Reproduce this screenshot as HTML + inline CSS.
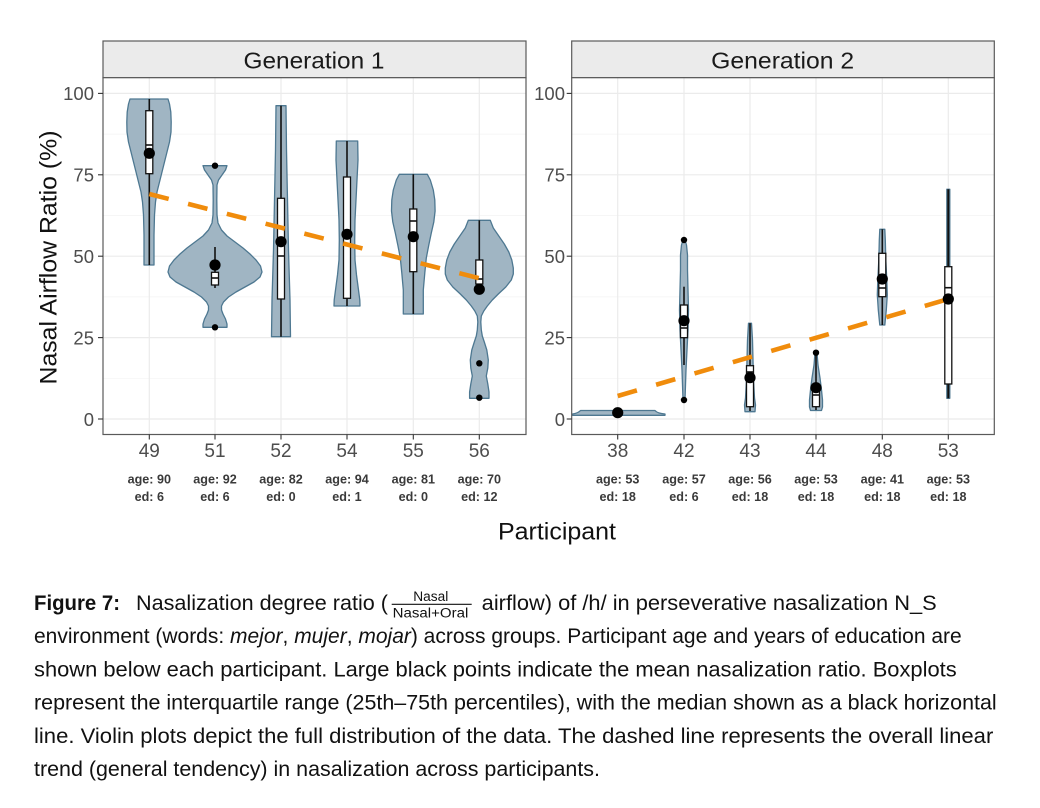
<!DOCTYPE html>
<html>
<head>
<meta charset="utf-8">
<style>
  html,body{margin:0;padding:0;background:#fff;}
  svg{display:block;}
  text{font-family:"Liberation Sans", Arial, sans-serif;}
</style>
</head>
<body>
<svg width="1040" height="808" viewBox="0 0 1040 808" xmlns="http://www.w3.org/2000/svg">
  <rect x="0" y="0" width="1040" height="808" fill="#fff"/>

  <!-- ================= PANEL 1 ================= -->
  <!-- strip -->
  <rect x="103" y="41" width="423" height="36.7" fill="#ebebeb" stroke="#5a5a5a" stroke-width="1.2"/>
  <text x="314" y="68.5" font-size="23" fill="#1a1a1a" text-anchor="middle" textLength="141" lengthAdjust="spacingAndGlyphs">Generation 1</text>
  <!-- panel bg -->
  <rect x="103" y="77.7" width="423" height="356.8" fill="#fff"/>
  <!-- minor grid -->
  <g stroke="#f3f3f3" stroke-width="0.7">
    <line x1="103" x2="526" y1="134.1" y2="134.1"/>
    <line x1="103" x2="526" y1="215.5" y2="215.5"/>
    <line x1="103" x2="526" y1="296.9" y2="296.9"/>
    <line x1="103" x2="526" y1="378.3" y2="378.3"/>
  </g>
  <!-- major grid -->
  <g stroke="#ebebeb" stroke-width="1.2">
    <line x1="103" x2="526" y1="93.4" y2="93.4"/>
    <line x1="103" x2="526" y1="174.8" y2="174.8"/>
    <line x1="103" x2="526" y1="256.2" y2="256.2"/>
    <line x1="103" x2="526" y1="337.6" y2="337.6"/>
    <line x1="103" x2="526" y1="419" y2="419"/>
    <line x1="149.3" x2="149.3" y1="77.7" y2="434.5"/>
    <line x1="215" x2="215" y1="77.7" y2="434.5"/>
    <line x1="281" x2="281" y1="77.7" y2="434.5"/>
    <line x1="347" x2="347" y1="77.7" y2="434.5"/>
    <line x1="413.3" x2="413.3" y1="77.7" y2="434.5"/>
    <line x1="479.3" x2="479.3" y1="77.7" y2="434.5"/>
  </g>

  <!-- violins panel 1 -->
  <g fill="#a0b5c3" stroke="#4e7891" stroke-width="1.3" stroke-linejoin="round">
    <path d="M130,99 L128.5,104 L127.2,112 L126.8,122 L127,132 L128.5,142 L131,152 L133.5,162 L136,172 L138.5,182 L141,192 L142.5,202 L143.5,215 L144,235 L144,265 L154,265 L154,235 L154.5,215 L155.5,202 L157,192 L159.5,182 L162,172 L164.5,162 L167,152 L169.5,142 L171,132 L171.2,122 L170.8,112 L169.5,104 L168,99 Z"/>
    <path d="M203,165.7 L204.5,170 L208,175 L211.5,180 L213,185 L213.2,200 L213,215 L212,223 L208.5,230 L203,236 L195,242 L187,248 L180,254 L174,260 L169.5,266 L168,272 L170,277 L176,282 L185,287 L194,292 L201.5,297 L206.5,302 L208.5,306 L208.5,310 L207,314 L204.5,319 L203,324 L203,327.3 L227,327.3 L227,324 L225.5,319 L223,314 L221.5,310 L221.5,306 L223.5,302 L228.5,297 L236,292 L245,287 L254,282 L260,277 L262,272 L260.5,266 L256,260 L250,254 L243,248 L235,242 L227,236 L221.5,230 L218,223 L217,215 L216.8,200 L217,185 L218.5,180 L222,175 L225.5,170 L227,165.7 Z"/>
    <path d="M276,105.7 L275.5,150 L274.5,200 L273.5,250 L272,300 L271.5,336.7 L290.5,336.7 L290,300 L288.5,250 L287.5,200 L286.5,150 L286,105.7 Z"/>
    <path d="M336.3,141 L336,160 L337,180 L338,200 L339,220 L339.3,240 L339,260 L337.5,275 L335.5,290 L334.2,300 L334,306 L360,306 L359.8,300 L358.5,290 L356.5,275 L355,260 L354.7,240 L355,220 L356,200 L357,180 L358,160 L357.7,141 Z"/>
    <path d="M399.3,174.3 L396.3,180 L393.3,190 L391.8,200 L391.5,211 L392.8,222 L395.3,233 L397.8,245 L400.3,258 L401.8,273 L403.3,290 L403.3,314 L423.3,314 L423.3,290 L424.8,273 L426.3,258 L428.8,245 L431.3,233 L433.8,222 L435.1,211 L434.8,200 L433.3,190 L430.3,180 L427.3,174.3 Z"/>
    <path d="M468.3,220.3 L465.3,228 L459.8,236 L454.3,244 L449.8,252 L446.8,260 L445.3,268 L445.3,274 L447.3,280 L452.8,287 L460.3,294 L466.3,300 L471.3,306 L474.8,311 L477.3,316 L477.8,322 L477.3,330 L476.3,336 L474.3,342 L471.8,350 L470.3,360 L470.8,368 L472.3,376 L470.8,384 L469.6,392 L469.6,398.3 L489,398.3 L489,392 L487.8,384 L486.3,376 L487.8,368 L488.3,360 L486.8,350 L484.3,342 L482.3,336 L481.3,330 L480.8,322 L481.3,316 L483.8,311 L487.3,306 L492.3,300 L498.3,294 L505.8,287 L511.3,280 L513.3,274 L513.3,268 L511.8,260 L508.8,252 L504.3,244 L498.8,236 L493.3,228 L490.3,220.3 Z"/>
  </g>

  <!-- whiskers panel 1 -->
  <g stroke="#111" stroke-width="1.6">
    <line x1="149.3" x2="149.3" y1="99" y2="265"/>
    <line x1="215" x2="215" y1="247" y2="288"/>
    <line x1="281" x2="281" y1="105.7" y2="336.7"/>
    <line x1="347" x2="347" y1="141" y2="306"/>
    <line x1="413.3" x2="413.3" y1="174.3" y2="314"/>
    <line x1="479.3" x2="479.3" y1="220.3" y2="292"/>
  </g>
  <!-- boxes panel 1 -->
  <g fill="#fff" stroke="#111" stroke-width="1.3">
    <rect x="145.8" y="110.7" width="7" height="63"/>
    <rect x="211.5" y="272.3" width="7" height="12.7"/>
    <rect x="277.5" y="198.3" width="7" height="100.7"/>
    <rect x="343.5" y="177" width="7" height="121.3"/>
    <rect x="409.8" y="209" width="7" height="62.7"/>
    <rect x="475.8" y="260" width="7" height="24"/>
  </g>
  <g stroke="#111" stroke-width="1.6">
    <line x1="145.8" x2="152.8" y1="145" y2="145"/>
    <line x1="211.5" x2="218.5" y1="278" y2="278"/>
    <line x1="277.5" x2="284.5" y1="256" y2="256"/>
    <line x1="343.5" x2="350.5" y1="236" y2="236"/>
    <line x1="409.8" x2="416.8" y1="221" y2="221"/>
    <line x1="475.8" x2="482.8" y1="279" y2="279"/>
  </g>

  <!-- trend panel 1 -->
  <line x1="149.3" y1="194" x2="479.3" y2="278.3" stroke="#f08c0c" stroke-width="4.6" stroke-dasharray="20 20"/>

  <!-- points panel 1 -->
  <g fill="#000">
    <circle cx="149.3" cy="153.3" r="5.6"/>
    <circle cx="215" cy="265" r="5.6"/>
    <circle cx="281" cy="241.7" r="5.6"/>
    <circle cx="347" cy="234.3" r="5.6"/>
    <circle cx="413.3" cy="236.7" r="5.6"/>
    <circle cx="479.3" cy="289.3" r="5.6"/>
    <circle cx="215" cy="165.7" r="3.2"/>
    <circle cx="215" cy="327.3" r="3.2"/>
    <circle cx="479.3" cy="363.3" r="3.2"/>
    <circle cx="479.3" cy="397.7" r="3.2"/>
  </g>

  <!-- panel 1 border -->
  <rect x="103" y="77.7" width="423" height="356.8" fill="none" stroke="#5a5a5a" stroke-width="1.2"/>

  <!-- y ticks panel 1 -->
  <g stroke="#333" stroke-width="1.1">
    <line x1="98" x2="103" y1="93.4" y2="93.4"/>
    <line x1="98" x2="103" y1="174.8" y2="174.8"/>
    <line x1="98" x2="103" y1="256.2" y2="256.2"/>
    <line x1="98" x2="103" y1="337.6" y2="337.6"/>
    <line x1="98" x2="103" y1="419" y2="419"/>
  </g>
  <g font-size="18.5" fill="#4d4d4d" text-anchor="end">
    <text x="94" y="100.2">100</text>
    <text x="94" y="181.6">75</text>
    <text x="94" y="263">50</text>
    <text x="94" y="344.4">25</text>
    <text x="94" y="425.8">0</text>
  </g>
  <!-- x ticks panel 1 -->
  <g stroke="#333" stroke-width="1.1">
    <line x1="149.3" x2="149.3" y1="434.5" y2="439.5"/>
    <line x1="215" x2="215" y1="434.5" y2="439.5"/>
    <line x1="281" x2="281" y1="434.5" y2="439.5"/>
    <line x1="347" x2="347" y1="434.5" y2="439.5"/>
    <line x1="413.3" x2="413.3" y1="434.5" y2="439.5"/>
    <line x1="479.3" x2="479.3" y1="434.5" y2="439.5"/>
  </g>
  <g font-size="19" fill="#4d4d4d" text-anchor="middle">
    <text x="149.3" y="457">49</text>
    <text x="215" y="457">51</text>
    <text x="281" y="457">52</text>
    <text x="347" y="457">54</text>
    <text x="413.3" y="457">55</text>
    <text x="479.3" y="457">56</text>
  </g>
  <g font-size="12.6" font-weight="bold" fill="#3a3a3a" text-anchor="middle">
    <text x="149.3" y="483.5">age: 90</text><text x="149.3" y="501">ed: 6</text>
    <text x="215" y="483.5">age: 92</text><text x="215" y="501">ed: 6</text>
    <text x="281" y="483.5">age: 82</text><text x="281" y="501">ed: 0</text>
    <text x="347" y="483.5">age: 94</text><text x="347" y="501">ed: 1</text>
    <text x="413.3" y="483.5">age: 81</text><text x="413.3" y="501">ed: 0</text>
    <text x="479.3" y="483.5">age: 70</text><text x="479.3" y="501">ed: 12</text>
  </g>

  <!-- ================= PANEL 2 ================= -->
  <rect x="571.7" y="41" width="422.6" height="36.7" fill="#ebebeb" stroke="#5a5a5a" stroke-width="1.2"/>
  <text x="782.7" y="68.5" font-size="23" fill="#1a1a1a" text-anchor="middle" textLength="143" lengthAdjust="spacingAndGlyphs">Generation 2</text>
  <rect x="571.7" y="77.7" width="422.6" height="356.8" fill="#fff"/>
  <g stroke="#f3f3f3" stroke-width="0.7">
    <line x1="571.7" x2="994.3" y1="134.1" y2="134.1"/>
    <line x1="571.7" x2="994.3" y1="215.5" y2="215.5"/>
    <line x1="571.7" x2="994.3" y1="296.9" y2="296.9"/>
    <line x1="571.7" x2="994.3" y1="378.3" y2="378.3"/>
  </g>
  <g stroke="#ebebeb" stroke-width="1.2">
    <line x1="571.7" x2="994.3" y1="93.4" y2="93.4"/>
    <line x1="571.7" x2="994.3" y1="174.8" y2="174.8"/>
    <line x1="571.7" x2="994.3" y1="256.2" y2="256.2"/>
    <line x1="571.7" x2="994.3" y1="337.6" y2="337.6"/>
    <line x1="571.7" x2="994.3" y1="419" y2="419"/>
    <line x1="617.7" x2="617.7" y1="77.7" y2="434.5"/>
    <line x1="684" x2="684" y1="77.7" y2="434.5"/>
    <line x1="750" x2="750" y1="77.7" y2="434.5"/>
    <line x1="816" x2="816" y1="77.7" y2="434.5"/>
    <line x1="882.3" x2="882.3" y1="77.7" y2="434.5"/>
    <line x1="948.3" x2="948.3" y1="77.7" y2="434.5"/>
  </g>

  <!-- violins panel 2 -->
  <g fill="#a0b5c3" stroke="#4e7891" stroke-width="1.3" stroke-linejoin="round">
    <path d="M572.5,415.3 L665,415.3 L665,414 C661,413.6 657,413 655,410.5 L580.5,410.5 C578.5,413 575,413.6 572.5,414 Z"/>
    <path d="M683,240 L681.5,245 L680.5,255 L680.5,270 L680,290 L679.5,310 L680,330 L681,350 L682,370 L682.5,385 L683,400 L685,400 L685.5,385 L686,370 L687,350 L688,330 L688.5,310 L688,290 L687.5,270 L687.5,255 L686.5,245 L685,240 Z"/>
    <path d="M748.5,323.3 L747.5,340 L747,360 L746.5,380 L745.5,398 L744.5,405 L745,411.7 L755,411.7 L755.5,405 L754.5,398 L753.5,380 L753,360 L752.5,340 L751.5,323.3 Z"/>
    <path d="M815,352.7 L814,365 L812,378 L810.5,390 L809.5,400 L809.5,407 L810.5,410.5 L821.5,410.5 L822.5,407 L822.5,400 L821.5,390 L820,378 L818,365 L817,352.7 Z"/>
    <path d="M879.8,229.3 L879.3,240 L878.8,260 L877.8,280 L877.3,295 L878.3,310 L879.3,320 L879.8,325 L884.8,325 L885.3,320 L886.3,310 L887.3,295 L886.8,280 L885.8,260 L885.3,240 L884.8,229.3 Z"/>
    <path d="M946.8,189.3 L946.8,398.3 L949.8,398.3 L949.8,189.3 Z"/>
  </g>

  <g stroke="#111" stroke-width="1.6">
    <line x1="684" x2="684" y1="286.7" y2="365"/>
    <line x1="750" x2="750" y1="323.3" y2="411"/>
    <line x1="816" x2="816" y1="355" y2="410"/>
    <line x1="882.3" x2="882.3" y1="229.3" y2="325"/>
    <line x1="948.3" x2="948.3" y1="189.3" y2="398.3" stroke-width="2"/>
  </g>
  <g fill="#fff" stroke="#111" stroke-width="1.3">
    <rect x="680.5" y="305" width="7" height="32.7"/>
    <rect x="746.5" y="365.7" width="7" height="41"/>
    <rect x="812.5" y="390" width="7" height="16.7"/>
    <rect x="878.8" y="253.3" width="7" height="43.4"/>
    <rect x="944.8" y="266.7" width="7" height="117.3"/>
  </g>
  <g stroke="#111" stroke-width="1.6">
    <line x1="680.5" x2="687.5" y1="328" y2="328"/>
    <line x1="746.5" x2="753.5" y1="372" y2="372"/>
    <line x1="812.5" x2="819.5" y1="395" y2="395"/>
    <line x1="878.8" x2="885.8" y1="288" y2="288"/>
    <line x1="944.8" x2="951.8" y1="287.7" y2="287.7"/>
  </g>

  <line x1="617.7" y1="396" x2="948.3" y2="299" stroke="#f08c0c" stroke-width="4.6" stroke-dasharray="20 20"/>

  <g fill="#000">
    <circle cx="617.7" cy="412.7" r="5.6"/>
    <circle cx="684" cy="320.7" r="5.6"/>
    <circle cx="750" cy="377.7" r="5.6"/>
    <circle cx="816" cy="387.7" r="5.6"/>
    <circle cx="882.3" cy="279" r="5.6"/>
    <circle cx="948.3" cy="299" r="5.6"/>
    <circle cx="684" cy="240" r="3.2"/>
    <circle cx="684" cy="400" r="3.2"/>
    <circle cx="816" cy="352.7" r="3.2"/>
  </g>

  <rect x="571.7" y="77.7" width="422.6" height="356.8" fill="none" stroke="#5a5a5a" stroke-width="1.2"/>

  <g stroke="#333" stroke-width="1.1">
    <line x1="566.7" x2="571.7" y1="93.4" y2="93.4"/>
    <line x1="566.7" x2="571.7" y1="174.8" y2="174.8"/>
    <line x1="566.7" x2="571.7" y1="256.2" y2="256.2"/>
    <line x1="566.7" x2="571.7" y1="337.6" y2="337.6"/>
    <line x1="566.7" x2="571.7" y1="419" y2="419"/>
  </g>
  <g font-size="18.5" fill="#4d4d4d" text-anchor="end">
    <text x="565" y="100.2">100</text>
    <text x="565" y="181.6">75</text>
    <text x="565" y="263">50</text>
    <text x="565" y="344.4">25</text>
    <text x="565" y="425.8">0</text>
  </g>
  <g stroke="#333" stroke-width="1.1">
    <line x1="617.7" x2="617.7" y1="434.5" y2="439.5"/>
    <line x1="684" x2="684" y1="434.5" y2="439.5"/>
    <line x1="750" x2="750" y1="434.5" y2="439.5"/>
    <line x1="816" x2="816" y1="434.5" y2="439.5"/>
    <line x1="882.3" x2="882.3" y1="434.5" y2="439.5"/>
    <line x1="948.3" x2="948.3" y1="434.5" y2="439.5"/>
  </g>
  <g font-size="19" fill="#4d4d4d" text-anchor="middle">
    <text x="617.7" y="457">38</text>
    <text x="684" y="457">42</text>
    <text x="750" y="457">43</text>
    <text x="816" y="457">44</text>
    <text x="882.3" y="457">48</text>
    <text x="948.3" y="457">53</text>
  </g>
  <g font-size="12.6" font-weight="bold" fill="#3a3a3a" text-anchor="middle">
    <text x="617.7" y="483.5">age: 53</text><text x="617.7" y="501">ed: 18</text>
    <text x="684" y="483.5">age: 57</text><text x="684" y="501">ed: 6</text>
    <text x="750" y="483.5">age: 56</text><text x="750" y="501">ed: 18</text>
    <text x="816" y="483.5">age: 53</text><text x="816" y="501">ed: 18</text>
    <text x="882.3" y="483.5">age: 41</text><text x="882.3" y="501">ed: 18</text>
    <text x="948.3" y="483.5">age: 53</text><text x="948.3" y="501">ed: 18</text>
  </g>

  <!-- axis titles -->
  <text transform="translate(56.5,257.5) rotate(-90)" font-size="24" fill="#111" text-anchor="middle" textLength="254" lengthAdjust="spacingAndGlyphs">Nasal Airflow Ratio (%)</text>
  <text x="557" y="539.3" font-size="24" fill="#111" text-anchor="middle" textLength="118" lengthAdjust="spacingAndGlyphs">Participant</text>

  <!-- ================= CAPTION ================= -->
  <g font-size="21" fill="#111">
    <text x="34" y="610" font-weight="bold" textLength="86" lengthAdjust="spacingAndGlyphs">Figure 7:</text>
    <text x="136" y="610" textLength="252" lengthAdjust="spacingAndGlyphs">Nasalization degree ratio (</text>
    <text x="430.8" y="601" font-size="13.5" text-anchor="middle" textLength="35" lengthAdjust="spacingAndGlyphs">Nasal</text>
    <line x1="391.7" x2="471.7" y1="604.3" y2="604.3" stroke="#111" stroke-width="1.1"/>
    <text x="430.5" y="617.7" font-size="13.5" text-anchor="middle" textLength="75.6" lengthAdjust="spacingAndGlyphs">Nasal+Oral</text>
    <text x="481.7" y="610" textLength="455" lengthAdjust="spacingAndGlyphs">airflow) of /h/ in perseverative nasalization N_S</text>
    <text x="34" y="643.2" textLength="927.7" lengthAdjust="spacingAndGlyphs">environment (words: <tspan font-style="italic">mejor</tspan>, <tspan font-style="italic">mujer</tspan>, <tspan font-style="italic">mojar</tspan>) across groups. Participant age and years of education are</text>
    <text x="34" y="676.4" textLength="922.7" lengthAdjust="spacingAndGlyphs">shown below each participant. Large black points indicate the mean nasalization ratio. Boxplots</text>
    <text x="34" y="709.6" textLength="962.7" lengthAdjust="spacingAndGlyphs">represent the interquartile range (25th–75th percentiles), with the median shown as a black horizontal</text>
    <text x="34" y="742.8" textLength="959.3" lengthAdjust="spacingAndGlyphs">line. Violin plots depict the full distribution of the data. The dashed line represents the overall linear</text>
    <text x="34" y="776" textLength="566" lengthAdjust="spacingAndGlyphs">trend (general tendency) in nasalization across participants.</text>
  </g>
</svg>
</body>
</html>
